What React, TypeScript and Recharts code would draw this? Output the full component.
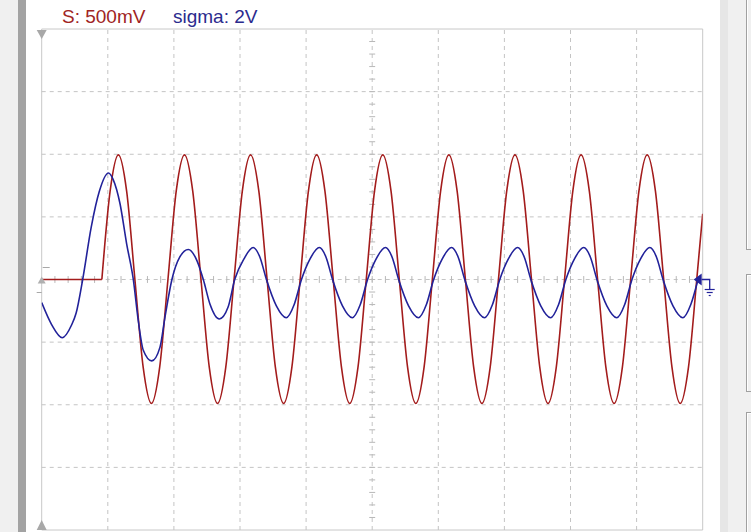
import React from "react";
import {
  LineChart,
  Line,
  XAxis,
  YAxis,
  ReferenceLine,
  ReferenceArea,
  ReferenceDot,
} from "recharts";

// screen is 10 x 8 divisions, values are in divisions
const xDivs = [1, 2, 3, 4, 5, 6, 7, 8, 9];
const yDivs = [-3, -2, -1, 0, 1, 2, 3];

// channel S (red): flat until the trace starts, then sampled every 1/8 div
const redFlat = [
  { t: 0, v: 0 },
  { t: 0.91, v: 0 },
];
const redStart = 0.91;
const redStep = 0.125;
const redVolts = [
  0, 1.41, 1.99, 1.41, 0, -1.4, -1.98, -1.4,
  0, 1.41, 1.99, 1.41, 0, -1.4, -1.98, -1.4,
  0, 1.41, 1.99, 1.41, 0, -1.4, -1.98, -1.4,
  0, 1.41, 1.99, 1.41, 0, -1.4, -1.98, -1.4,
  0, 1.41, 1.99, 1.41, 0, -1.4, -1.98, -1.4,
  0, 1.41, 1.99, 1.41, 0, -1.4, -1.98, -1.4,
  0, 1.41, 1.99, 1.41, 0, -1.4, -1.98, -1.4,
  0, 1.41, 1.99, 1.41, 0, -1.4, -1.98, -1.4,
  0, 1.41, 1.99, 1.41, 0, -1.4, -1.98, -1.4,
  0,
];
const redEnd = { t: 10, v: 1.05 };

// channel sigma (blue)
const blueTimes = [
  0, 0.15, 0.31, 0.45, 0.52, 0.62, 0.75, 0.87, 1.01, 1.08, 1.185, 1.285,
  1.386, 1.46, 1.537, 1.665, 1.79, 1.865, 1.97, 2.09, 2.218, 2.345, 2.445,
  2.545, 2.687, 2.82, 2.92,
  3.06, 3.2, 3.3, 3.4, 3.55, 3.7, 3.82, 3.93,
  4.06, 4.2, 4.3, 4.4, 4.55, 4.7, 4.82, 4.93,
  5.06, 5.2, 5.3, 5.4, 5.55, 5.7, 5.82, 5.93,
  6.06, 6.2, 6.3, 6.4, 6.55, 6.7, 6.82, 6.93,
  7.06, 7.2, 7.3, 7.4, 7.55, 7.7, 7.82, 7.93,
  8.06, 8.2, 8.3, 8.4, 8.55, 8.7, 8.82, 8.93,
  9.06, 9.2, 9.3, 9.4, 9.55, 9.7, 9.82, 9.93,
];
const blueVolts = [
  -0.37, -0.72, -0.93, -0.73, -0.54, 0, 0.84, 1.4, 1.7, 1.6, 1.21, 0.57,
  0, -0.65, -1.13, -1.3, -1.08, -0.6, 0, 0.36, 0.48, 0.31, 0,
  -0.39, -0.63, -0.44, 0,
  0.33, 0.51, 0.36, 0, -0.42, -0.61, -0.4, 0,
  0.33, 0.51, 0.36, 0, -0.42, -0.61, -0.4, 0,
  0.33, 0.51, 0.36, 0, -0.42, -0.61, -0.4, 0,
  0.33, 0.51, 0.36, 0, -0.42, -0.61, -0.4, 0,
  0.33, 0.51, 0.36, 0, -0.42, -0.61, -0.4, 0,
  0.33, 0.51, 0.36, 0, -0.42, -0.61, -0.4, 0,
  0.33, 0.51, 0.36, 0, -0.42, -0.61, -0.4, 0,
];

const redData = [
  ...redVolts.map((v, i) => ({ t: redStart + i * redStep, v })),
  redEnd,
];
const blueData = blueTimes.map((t, i) => ({ t, v: blueVolts[i] }));

// minor ticks on the centre cross
const minorX = Array.from({ length: 49 }, (_, i) => (i + 1) * 0.2);
const minorY = Array.from({ length: 39 }, (_, i) => -3.8 + i * 0.2);

const GRID = "#c4c4c4";
const RED = "#a31c1c";
const BLUE = "#22229a";

const GroundMarker = (p: any) => {
  const { cx, cy } = p;
  return (
    <g>
      <polygon points={`${cx - 9},${cy} ${cx - 1},${cy - 6} ${cx - 1},${cy + 6}`} fill={BLUE} />
      <polyline points={`${cx - 1},${cy} ${cx + 7},${cy} ${cx + 7},${cy + 10}`} fill="none" stroke={BLUE} strokeWidth={1.3} />
      <line x1={cx + 2} x2={cx + 12} y1={cy + 10} y2={cy + 10} stroke={BLUE} strokeWidth={1.2} />
      <line x1={cx + 4} x2={cx + 10} y1={cy + 13} y2={cy + 13} stroke={BLUE} strokeWidth={1.2} />
      <line x1={cx + 6} x2={cx + 8} y1={cy + 16} y2={cy + 16} stroke={BLUE} strokeWidth={1.2} />
    </g>
  );
};

const LevelMarker = (p: any) => {
  const { cx, cy } = p;
  return (
    <g>
      <polygon points={`${cx - 4},${cy + 4} ${cx + 4},${cy + 4} ${cx},${cy - 3}`} fill="#b0b0b0" />
      <line x1={cx + 1} x2={cx + 8} y1={cy - 12} y2={cy - 12} stroke="#a8a8a8" />
      <line x1={cx - 5} x2={cx} y1={cy + 13} y2={cy + 13} stroke="#a8a8a8" />
    </g>
  );
};

const TopMarker = (p: any) => {
  const { cx, cy } = p;
  return <polygon points={`${cx - 5},${cy + 1} ${cx + 5},${cy + 1} ${cx},${cy + 10}`} fill="#a8a8a8" />;
};

const BottomMarker = (p: any) => {
  const { cx, cy } = p;
  return <polygon points={`${cx - 5},${cy} ${cx + 5},${cy} ${cx},${cy - 10}`} fill="#a8a8a8" />;
};

export default function App() {
  return (
    <div
      style={{
        position: "absolute",
        left: 0,
        top: 0,
        width: 751,
        height: 532,
        background: "#fff",
        overflow: "hidden",
        fontFamily: "Arial, 'Liberation Sans', sans-serif",
      }}
    >
      <div style={{ position: "absolute", left: 0, top: 0, width: 18, height: 532, background: "#f0f0f0" }} />
      <div style={{ position: "absolute", left: 18, top: 0, width: 8, height: 532, background: "#a3a3a3" }} />
      <div style={{ position: "absolute", left: 720, top: 0, width: 8, height: 532, background: "#e6e6e6" }} />
      <div style={{ position: "absolute", left: 728, top: 0, width: 23, height: 532, background: "#f0f0f0" }} />
      <div style={{ position: "absolute", left: 746, top: -2, width: 20, height: 250, border: "1px solid #a0a0a0", boxShadow: "inset 1px 1px #fff" }} />
      <div style={{ position: "absolute", left: 746, top: 274, width: 20, height: 116, border: "1px solid #a0a0a0", boxShadow: "inset 1px 1px #fff" }} />
      <div style={{ position: "absolute", left: 746, top: 412, width: 20, height: 140, border: "1px solid #a0a0a0", boxShadow: "inset 1px 1px #fff" }} />

      <div style={{ position: "absolute", left: 62, top: 7, fontSize: 19, lineHeight: 1, color: "#a02424", whiteSpace: "nowrap" }}>
        S: 500mV
      </div>
      <div style={{ position: "absolute", left: 173, top: 7, fontSize: 19, lineHeight: 1, color: "#2b2b8e", whiteSpace: "nowrap" }}>
        sigma: 2V
      </div>

      <LineChart
        width={751}
        height={532}
        margin={{ top: 29, left: 41.7, right: 48.3, bottom: 2 }}
        style={{ position: "absolute", left: 0, top: 0 }}
      >
        <XAxis dataKey="t" type="number" domain={[0, 10]} hide allowDataOverflow />
        <YAxis type="number" domain={[-4, 4]} hide allowDataOverflow />
        <ReferenceArea x1={0} x2={10} y1={-4} y2={4} fill="none" stroke="#c8c8c8" strokeWidth={1} />
        {xDivs.map((x) => (
          <ReferenceLine key={`x${x}`} x={x} stroke={GRID} strokeDasharray="4 4" />
        ))}
        {yDivs.map((y) => (
          <ReferenceLine key={`y${y}`} y={y} stroke={GRID} strokeDasharray="4 4" />
        ))}
        {minorX.map((x) => (
          <ReferenceLine
            key={`mx${x}`}
            segment={[
              { x, y: -0.055 },
              { x, y: 0.055 },
            ]}
            stroke="#b8b8b8"
          />
        ))}
        {minorY.map((y) => (
          <ReferenceLine
            key={`my${y}`}
            segment={[
              { x: 4.955, y },
              { x: 5.045, y },
            ]}
            stroke="#b8b8b8"
          />
        ))}
        <Line
          data={redFlat}
          dataKey="v"
          type="linear"
          stroke={RED}
          strokeWidth={1.6}
          dot={false}
          isAnimationActive={false}
        />
        <Line
          data={redData}
          dataKey="v"
          type="monotone"
          stroke={RED}
          strokeWidth={1.6}
          dot={false}
          isAnimationActive={false}
        />
        <Line
          data={blueData}
          dataKey="v"
          type="monotone"
          stroke={BLUE}
          strokeWidth={1.6}
          dot={false}
          isAnimationActive={false}
        />
        <ReferenceDot x={0} y={4} r={5} shape={TopMarker} />
        <ReferenceDot x={0} y={-4} r={5} shape={BottomMarker} />
        <ReferenceDot x={0} y={0} r={5} shape={LevelMarker} />
        <ReferenceDot x={10} y={0} r={5} shape={GroundMarker} />
      </LineChart>
    </div>
  );
}
